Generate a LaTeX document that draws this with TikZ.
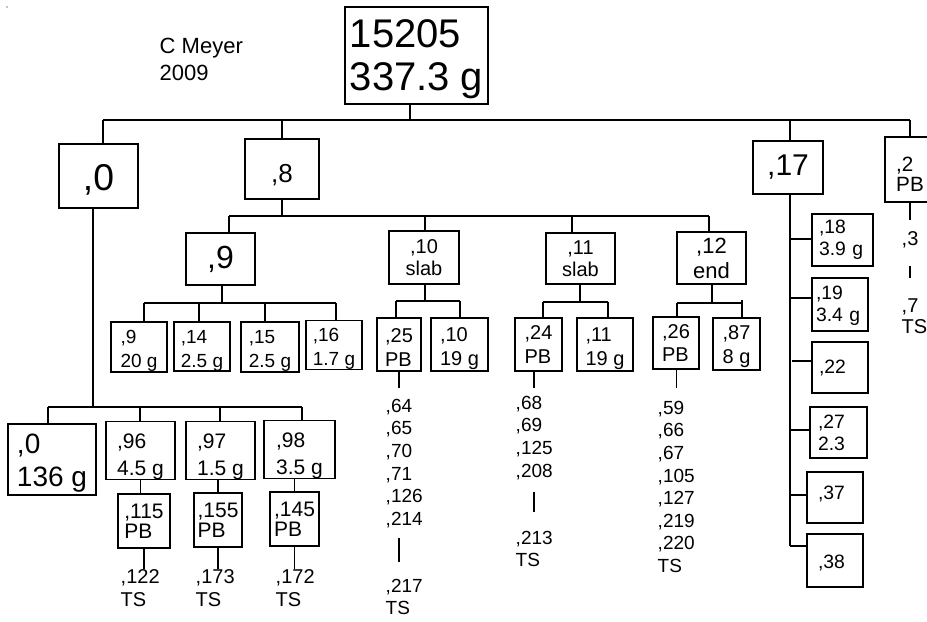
\documentclass[tikz,border=0pt]{standalone}
\usepackage{fontspec}
\setmainfont{Liberation Sans}
\lineskiplimit=-50pt
\newcommand\myst[1]{\rule{0pt}{#1}}
\newcommand\mydp[1]{\rule[-#1]{0pt}{#1}}
\tikzset{
  box/.style={draw, line width=1.1pt, inner sep=0pt, align=left},
  sz/.style 2 args={minimum width=#1*0.75pt, minimum height=#2*0.75pt},
  txt/.style={inner sep=0pt, align=left, anchor=north west},
  fRoot/.style={font=\fontsize{30pt}{32.25pt}\selectfont},
  fMeyer/.style={font=\fontsize{16.5pt}{20.25pt}\selectfont},
  fA/.style={font=\fontsize{28pt}{30pt}\selectfont},
  fEight/.style={font=\fontsize{19.5pt}{22pt}\selectfont},
  fNine/.style={font=\fontsize{24pt}{26pt}\selectfont},
  fSeventeen/.style={font=\fontsize{22.5pt}{24pt}\selectfont},
  fTwo/.style={font=\fontsize{15.5pt}{14.8pt}\selectfont},
  fMid/.style={font=\fontsize{15pt}{16.5pt}\selectfont},
  fEnd/.style={font=\fontsize{16.5pt}{18.75pt}\selectfont},
  fSm/.style={font=\fontsize{14.25pt}{18pt}\selectfont},
  fPb/.style={font=\fontsize{15pt}{17.5pt}\selectfont},
  fList/.style={font=\fontsize{14.25pt}{16.9pt}\selectfont},
  fCzero/.style={font=\fontsize{21pt}{24.75pt}\selectfont},
  fCmid/.style={font=\fontsize{15.75pt}{20.25pt}\selectfont},
  fD/.style={font=\fontsize{15.75pt}{15pt}\selectfont},
  fTs/.style={font=\fontsize{15pt}{17.25pt}\selectfont},
  fE/.style={font=\fontsize{14.5pt}{16.5pt}\selectfont},
}
\begin{document}
\begin{tikzpicture}[x=0.75pt,y=-0.75pt,line width=1.1pt]
\useasboundingbox (0,0) rectangle (927,621);
\fill (7,7) circle (0.7);

% root and author
\node[box,fRoot,sz={143}{97}] (root) at (416.5,55.5) {\myst{25.8pt}15205\\337.3 g};
\node[txt,fMeyer] (meyer) at (159,37) {C Meyer\\2009};

% level 1
\node[box,fA,sz={79}{64}] (n0) at (98.5,176) {\myst{25.2pt},0};
\node[box,fEight,sz={74}{60}] (n8) at (282,169) {\myst{22.4pt},8};
\node[box,fSeventeen,sz={70}{53}] (n17) at (788,167.5) {,17};
\node[box,fTwo,sz={50}{65}] (n2) at (910,169.5) {\myst{17.8pt},2\\PB};

\coordinate (rs) at (410,120);
\coordinate (r0) at (103,120);
\coordinate (r8) at (282,120);
\coordinate (r17) at (790,120);
\coordinate (r2) at (910,120);
\draw (root.south -| rs) -- (rs);
\draw (r0) -- (r2);
\draw (r0) -- (r0 |- n0.north);
\draw (r8) -- (r8 |- n8.north);
\draw (r17) -- (r17 |- n17.north);
\draw (r2) -- (r2 |- n2.north);

% level 2 under ,8
\node[box,fNine,sz={69}{52}] (n9) at (220.5,259) {,9};
\node[box,fMid,sz={70}{53},align=center] (n10) at (424,257.5) {,10\\slab};
\node[box,fMid,sz={69}{51},align=center] (n11) at (580.5,258.5) {,11\\slab};
\node[box,fEnd,sz={69}{52},align=center] (n12) at (711.5,258) {,12\\end};

\coordinate (s8) at (282,216);
\coordinate (t9) at (229,216);
\coordinate (t10) at (425,216);
\coordinate (t11) at (572,216);
\coordinate (t12) at (709,216);
\draw (n8.south) -- (s8);
\draw (t9) -- (t12);
\draw (t9) -- (t9 |- n9.north);
\draw (t10) -- (t10 |- n10.north);
\draw (t11) -- (t11 |- n11.north);
\draw (t12) -- (t12 |- n12.north);

% level 3 under ,9
\node[box,fSm,sz={56}{50}] (a9) at (139,347) {\myst{15.75pt},9\\20 g};
\node[box,fSm,sz={56}{49}] (a14) at (202,346.5) {\myst{15.75pt},14\\2.5 g};
\node[box,fSm,sz={58}{50}] (a15) at (270,347) {\myst{15.75pt},15\\2.5 g};
\node[box,fSm,sz={56}{48}] (a16) at (334,345) {\myst{15.75pt},16\\1.7 g};
\coordinate (s9) at (222,303);
\coordinate (u1) at (144,303);
\coordinate (u2) at (199,303);
\coordinate (u3) at (265,303);
\coordinate (u4) at (336,303);
\draw (s9 |- n9.south) -- (s9);
\draw (u1) -- (u4);
\draw (u1) -- (u1 |- a9.north);
\draw (u2) -- (u2 |- a14.north);
\draw (u3) -- (u3 |- a15.north);
\draw (u4) -- (u4 |- a16.north);

% under ,10 slab
\node[box,fPb,sz={44}{53}] (b25) at (399,344.5) {\myst{15.2pt},25\\PB};
\node[box,fPb,sz={57}{53}] (b10) at (459.5,344.5) {\myst{16.4pt},10\\19 g};
\coordinate (s10) at (425,301);
\coordinate (v1) at (396,301);
\coordinate (v2) at (460,301);
\draw (s10 |- n10.south) -- (s10);
\draw (v1) -- (v2);
\draw (v1) -- (v1 |- b25.north);
\draw (v2) -- (v2 |- b10.north);

% under ,11 slab
\node[box,fPb,sz={47}{53}] (b24) at (538.5,344.5) {,24\\PB};
\node[box,fPb,sz={56}{53}] (b11) at (605,344.5) {\myst{16.4pt},11\\19 g};
\coordinate (s11) at (580,302);
\coordinate (w1) at (543,302);
\coordinate (w2) at (608,302);
\draw (s11 |- n11.south) -- (s11);
\draw (w1) -- (w2);
\draw (w1) -- (w1 |- b24.north);
\draw (w2) -- (w2 |- b11.north);

% under ,12 end
\node[box,fPb,sz={46}{52}] (b26) at (676,343) {,26\\PB};
\node[box,fPb,sz={47}{52}] (b87) at (736.5,344) {\myst{14.6pt},87\\8 g};
\coordinate (s12) at (712,303);
\coordinate (x1) at (677,303);
\coordinate (x2) at (742,303);
\draw (s12 |- n12.south) -- (s12);
\draw (x1) -- (x2);
\draw (x1) -- (x1 |- b26.north);
\draw (x2) -- ([yshift=2.25pt]x2) -- (x2 |- b87.north);

% lists
\node[txt,fList] (L25a) at (385,398.4) {,64\\,65\\,70\\,71\\,126\\,214};
\node[txt,fList] (L25b) at (385,578.4) {,217\\TS};
\node[txt,fList] (L24a) at (515,395.4) {,68\\,69\\,125\\,208};
\node[txt,fList] (L24b) at (515,530.4) {,213\\TS};
\node[txt,fList] (L26) at (657,400.4) {,59\\,66\\,67\\,105\\,127\\,219\\,220\\TS};

\draw[shorten >=7.8pt] (b25.south) -- (b25.south |- L25a.north);
\draw[shorten <=7pt, shorten >=12.3pt] (L25a.south -| b25.south) -- (L25b.north -| b25.south);
\draw[shorten >=5.6pt] (b24.south -| L24a.north) -- (L24a.north);
\draw[shorten <=9.2pt, shorten >=13.8pt] (L24a.south) -- (L24a.south |- L24b.north);
\draw[shorten >=9.3pt] (b26.south -| L26.north) -- (L26.north);

% lower left under ,0
\node[box,fCzero,sz={88}{71}] (c0) at (52,459.5) {\myst{20.2pt},0\\136 g};
\node[box,fCmid,sz={69}{53}] (c96) at (140.5,450.5) {\myst{19.8pt},96\\4.5 g};
\node[box,fCmid,sz={69}{53}] (c97) at (220.5,450.5) {\myst{19.8pt},97\\1.5 g};
\node[box,fCmid,sz={71}{53}] (c98) at (299.5,449.5) {\myst{19.8pt},98\\3.5 g};
\coordinate (s0) at (93,407);
\coordinate (y1) at (48,407);
\coordinate (y2) at (140,407);
\coordinate (y3) at (220,407);
\coordinate (y4) at (302,407);
\draw (s0 |- n0.south) -- (s0);
\draw (y1) -- (y4);
\draw (y1) -- (y1 |- c0.north);
\draw (y2) -- (y2 |- c96.north);
\draw (y3) -- (y3 |- c97.north);
\draw (y4) -- (y4 |- c98.north);

\node[box,fD,sz={52}{54}] (d115) at (144,521) {,115\\PB};
\node[box,fD,sz={48}{54}] (d155) at (218,520) {,155\\PB};
\node[box,fD,sz={49}{54}] (d145) at (294.5,519) {,145\\PB};
\draw (c96.south) -- (c96.south |- d115.north);
\draw (d155.north |- c97.south) -- (d155.north);
\draw (d145.north |- c98.south) -- (d145.north);

\node[txt,fTs] (t122) at (120,568.7) {,122\\TS};
\node[txt,fTs] (t173) at (195,568.7) {,173\\TS};
\node[txt,fTs] (t172) at (275,568.7) {,172\\TS};
\draw (d115.south) -- (d115.south |- t122.north);
\draw (d155.south) -- (d155.south |- t173.north);
\draw (d145.south) -- (d145.south |- t172.north);

% right column under ,17
\node[box,fE,sz={61}{52},text width=35.25pt] (e18) at (842.5,240) {,18\\3.9 g};
\node[box,fE,sz={56}{53},text width=36pt] (e19) at (840,304.5) {\myst{12.75pt},19\\3.4 g};
\node[box,fE,sz={56}{51},text width=31.5pt] (e22) at (840,367.5) {,22};
\node[box,fE,sz={57}{51},text width=30.75pt] (e27) at (838.5,432.5) {,27\\2.3};
\node[box,fE,sz={56}{51},text width=25.5pt] (e37) at (835,497.5) {,37\mydp{6.7pt}};
\node[box,fE,sz={56}{53},text width=25.5pt] (e38) at (835,560.5) {\myst{13.3pt},38};
\coordinate (s17) at (790,546);
\coordinate (k18) at (790,239);
\coordinate (k19) at (790,298);
\coordinate (k22) at (792,361);
\coordinate (k27) at (790,430);
\coordinate (k37) at (790,495);
\draw (s17 |- n17.south) -- (s17);
\draw (k18) -- (k18 -| e18.west);
\draw (k19) -- (k19 -| e19.west);
\draw (k22) -- (k22 -| e22.west);
\draw (k27) -- (k27 -| e27.west);
\draw (k37) -- (k37 -| e37.west);
\draw (s17) -- (s17 -| e38.west);

% right column under ,2 PB
\node[txt,fTs] (l3) at (901,230.7) {,3};
\node[txt,font=\fontsize{15pt}{15.75pt}\selectfont] (l7) at (901,297.7) {,7\\TS};
\draw[shorten >=8pt] (n2.south) -- (n2.south |- l3.north);
\draw[shorten <=13pt, shorten >=14.8pt] (l3.south -| n2.south) -- (l7.north -| n2.south);
\end{tikzpicture}
\end{document}
